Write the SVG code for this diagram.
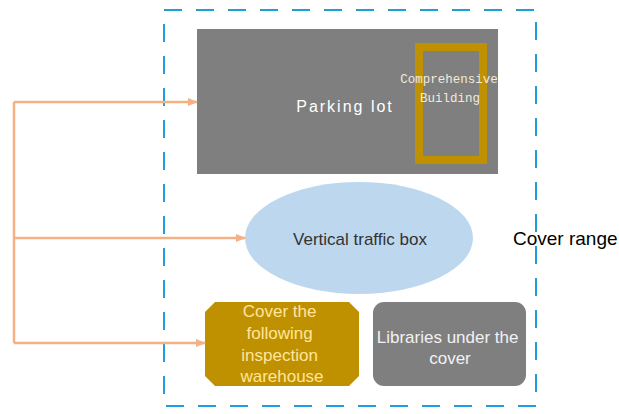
<svg xmlns="http://www.w3.org/2000/svg" width="619" height="414" viewBox="0 0 619 414">
<defs>
<style>
.conn{stroke:#F4B183;stroke-width:2.5;fill:none}
.sans{font-family:"Liberation Sans",Arial,sans-serif}
.mono{font-family:"Liberation Mono","Courier New",monospace}
</style>
<marker id="arr" markerWidth="10" markerHeight="8" refX="9" refY="4" orient="auto" markerUnits="userSpaceOnUse">
<path d="M0,0 L10,4 L0,8 Z" fill="#F4B183"/>
</marker>
</defs>
<rect width="619" height="414" fill="#ffffff"/>
<g id="cover-range">
<rect x="164" y="10" width="372" height="396" fill="none" stroke="#1E9FD8" stroke-width="2" stroke-dasharray="18 14"/>
<text class="sans" x="513" y="245" font-size="19" fill="#000000">Cover range</text>
</g>
<g id="parking-lot">
<rect x="197" y="29" width="301" height="145" fill="#7F7F7F"/>
<text class="sans" x="345" y="112" font-size="16" fill="#FFFFFF" text-anchor="middle" letter-spacing="2">Parking lot</text>
</g>
<g id="comprehensive-building">
<rect x="419" y="47" width="64" height="113" fill="none" stroke="#BF9000" stroke-width="8"/>
<text class="mono" x="449" y="83" font-size="12.5" fill="#F2EBD9" text-anchor="middle">Comprehensive</text>
<text class="mono" x="450" y="102" font-size="12.5" fill="#F2EBD9" text-anchor="middle">Building</text>
</g>
<g id="vertical-traffic-box">
<ellipse cx="359" cy="238" rx="114" ry="56" fill="#BDD7EE"/>
<text class="sans" x="360" y="245" font-size="17" fill="#333333" text-anchor="middle">Vertical traffic box</text>
</g>
<g id="inspection-warehouse">
<polygon points="215,302 349,302 359,312 359,376 349,386 215,386 205,376 205,312" fill="#BF9000"/>
<text class="sans" font-size="17" fill="#FFE699" text-anchor="middle">
<tspan x="282" y="317">Cover the</tspan>
<tspan x="282" y="339">following</tspan>
<tspan x="282" y="361">inspection</tspan>
<tspan x="282" y="382">warehouse</tspan>
</text>
</g>
<g id="libraries-under-cover">
<rect x="373" y="302" width="153" height="84" rx="11" fill="#7F7F7F"/>
<text class="sans" font-size="17" fill="#F2F2F2" text-anchor="middle">
<tspan x="450" y="343">Libraries under the</tspan>
<tspan x="450" y="364">cover</tspan>
</text>
</g>
<g id="connectors">
<path class="conn" d="M14,102 L14,343"/>
<path class="conn" d="M14,102 L197,102" marker-end="url(#arr)"/>
<path class="conn" d="M14,238 L245,238" marker-end="url(#arr)"/>
<path class="conn" d="M14,343 L205,343" marker-end="url(#arr)"/>
</g>
</svg>
